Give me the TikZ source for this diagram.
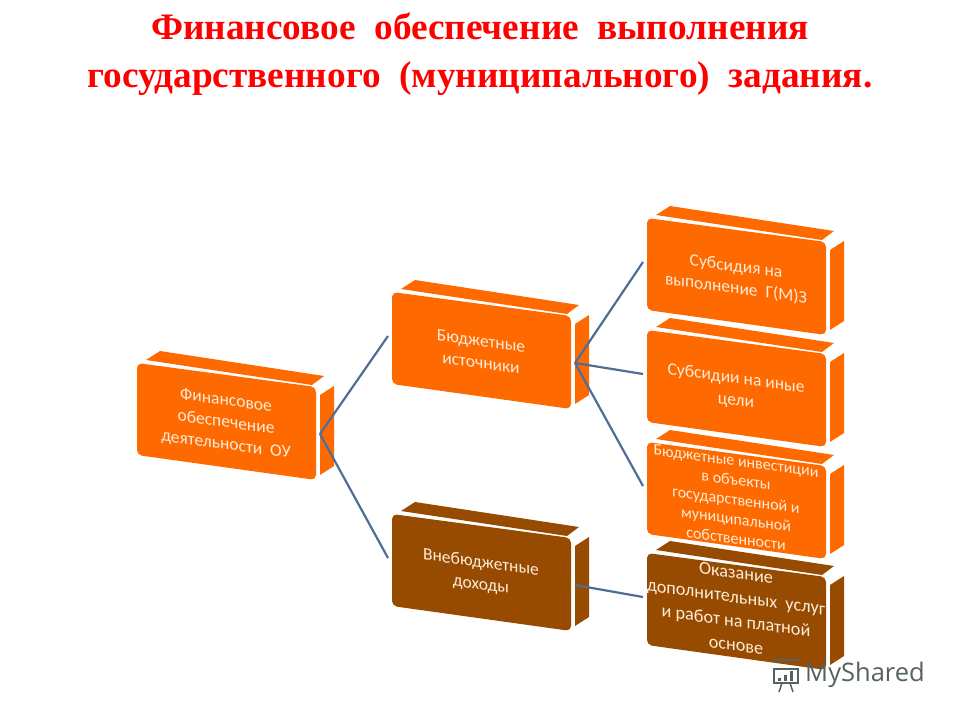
\documentclass[tikz,border=0pt]{standalone}
\usepackage{fontspec}
\setmainfont{Carlito}
\newfontfamily\titlefont{Liberation Serif}
\newfontfamily\markfont{Open Sans}
\definecolor{boxorange}{HTML}{FF6A00}
\definecolor{boxbrown}{HTML}{964B00}
\definecolor{linkblue}{HTML}{4F6E96}
\definecolor{boxtext}{HTML}{FDEBD8}
\definecolor{marksign}{HTML}{56625E}
\tikzset{
  boxlabel/.style={text=boxtext,align=center,inner sep=0pt,yslant=-0.135,font=\fontsize{17.5}{22}\selectfont},
  smalllabel/.style={boxlabel,yshift=2pt,font=\fontsize{16}{19.5}\selectfont},
  biglabel/.style={boxlabel,yshift=4pt,font=\fontsize{18.2}{24}\selectfont},
  link/.style={draw=linkblue,line width=2.2pt},
  titletext/.style={text=red,align=center,inner sep=0pt,font=\titlefont\bfseries\fontsize{37.3}{48}\selectfont}
}
% name, left, top, colour, label style, text
\newcommand{\blockbox}[6]{
  \fill[#4] (#2+9,#3-3)--(#2+23,#3-12)--(#2+187,#3+13)--(#2+175,#3+22)--cycle;
  \fill[#4] (#2+183,#3+32)--(#2+197,#3+23)--(#2+197,#3+103)--(#2+183,#3+112)--cycle;
  \fill[#4,rounded corners=5pt] (#2,#3)--(#2+179,#3+24)--(#2+179,#3+117)--(#2,#3+92)--cycle;
  \node[#5] (#1) at (#2+89,#3+60){#6};
  \coordinate (#1l) at (#2-4,#3+44);
  \coordinate (#1r) at (#2+183,#3+71);
}
\begin{document}
\begin{tikzpicture}[x=1pt,y=-1pt]
\useasboundingbox (0,0) rectangle (960,720);
\node[titletext] (title) at (480,54){Финансовое\ \ обеспечение\ \ выполнения\\государственного\ \ (муниципального)\ \ задания.};
\blockbox{fin}{137}{363}{boxorange}{boxlabel}{Финансовое\\обеспечение\\деятельности\ \ ОУ}
\blockbox{bud}{392}{292}{boxorange}{boxlabel}{Бюджетные\\источники}
\blockbox{vne}{392}{514}{boxbrown}{boxlabel}{Внебюджетные\\доходы}
\blockbox{sub}{647}{218}{boxorange}{boxlabel}{Субсидия на\\выполнение\ \ Г(М)З}
\blockbox{oth}{647}{330}{boxorange}{boxlabel}{Субсидии на иные\\цели}
\blockbox{inv}{647}{442}{boxorange}{smalllabel}{Бюджетные инвестиции\\в объекты\\государственной и\\муниципальной\\собственности}
\blockbox{oka}{647}{553}{boxbrown}{biglabel}{Оказание\\дополнительных\ \ услуг\\и работ на платной\\основе}
\draw[link] (finr)--(budl);
\draw[link] (finr)--(vnel);
\draw[link] (budr)--(subl);
\draw[link] (budr)--(othl);
\draw[link] (budr)--(invl);
\draw[link] (vner)--(okal);
% watermark
\node[text=marksign,inner sep=0pt,font=\markfont\fontsize{25.5}{26}\selectfont] (mark) at (865,675){MyShared};
\draw[marksign,line width=1.5pt] (774,669) rectangle (798,683);
\draw[marksign,line width=1.2pt] (772,660)--(800,660);
\draw[marksign,line width=1.5pt] (782,683)--(779,692) (790,683)--(793,692);
\foreach \i/\j in {778/3,784/6,790/10}{
  \fill[marksign] (\i,681) rectangle (\i+3,681-\j);
}
\end{tikzpicture}
\end{document}
